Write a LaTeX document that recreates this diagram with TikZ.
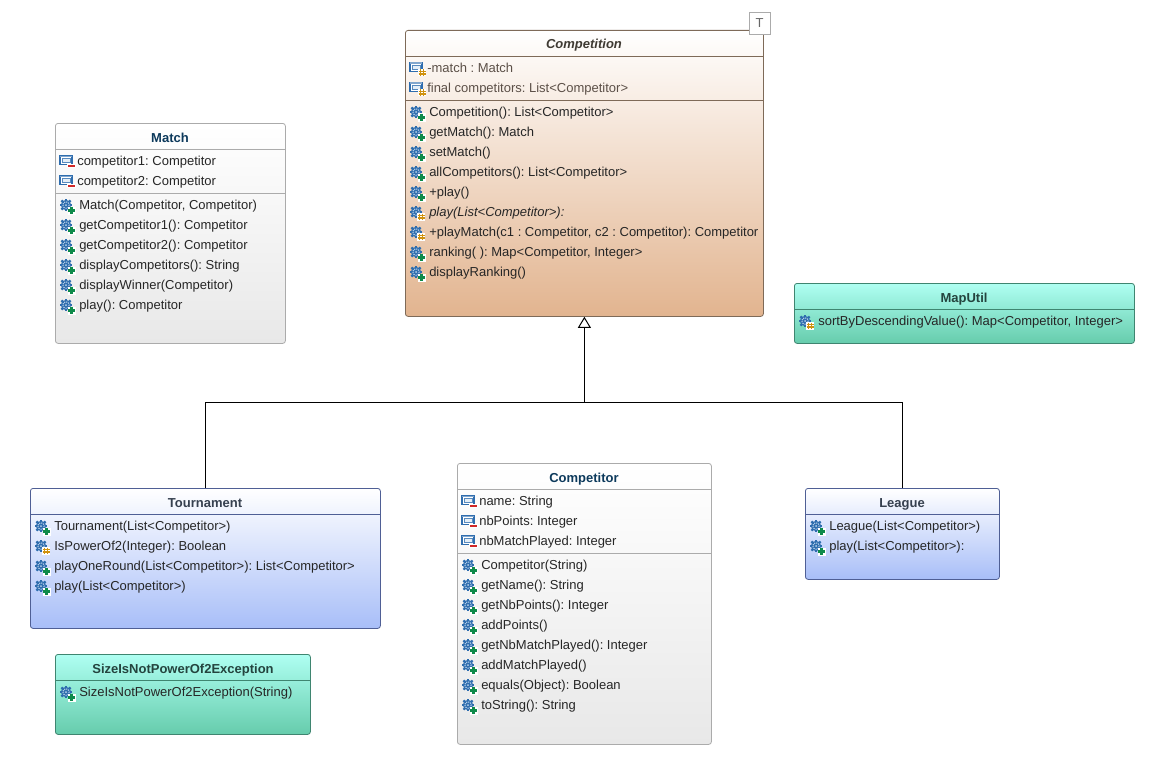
\documentclass[tikz,border=0pt]{standalone}
\usepackage{fontspec}
\setmainfont{Liberation Sans}
\usetikzlibrary{arrows.meta}
\definecolor{titleblue}{HTML}{0D3A5C}
\definecolor{titlebrown}{HTML}{3F3A33}
\definecolor{titleslate}{HTML}{36404F}
\definecolor{titleteal}{HTML}{24443E}
\definecolor{attrbrown}{HTML}{5C5048}
\definecolor{graydraw}{HTML}{ABABAB}
\definecolor{graybottom}{HTML}{E8E8E8}
\definecolor{browndraw}{HTML}{7E6A58}
\definecolor{brownbottom}{HTML}{E2B48F}
\definecolor{bluedraw}{HTML}{4F5F95}
\definecolor{bluebottom}{HTML}{A8BEF8}
\definecolor{greendraw}{HTML}{3F8570}
\definecolor{greentop}{HTML}{AFFFF2}
\definecolor{greenbottom}{HTML}{66CCAC}
\definecolor{iconblue}{HTML}{2F6DAE}
\definecolor{iconpale}{HTML}{BCD4EC}
\definecolor{icongreen}{HTML}{0E8A4A}
\definecolor{iconorange}{HTML}{D0920F}
\definecolor{iconred}{HTML}{D02828}
\tikzset{
  classbox/.style={draw, rounded corners=2pt, anchor=north west, inner sep=0pt, line width=0.6pt},
  graybox/.style={classbox, draw=graydraw, top color=white, bottom color=graybottom},
  brownbox/.style={classbox, draw=browndraw, top color=white, bottom color=brownbottom},
  bluebox/.style={classbox, draw=bluedraw, top color=white, bottom color=bluebottom},
  greenbox/.style={classbox, draw=greendraw, top color=greentop, bottom color=greenbottom},
  rowtext/.style={anchor=base west, inner sep=0pt, font=\fontsize{9.75pt}{11pt}\selectfont\frenchspacing, text=black!85},
  titletext/.style={anchor=base, inner sep=0pt, font=\fontsize{9.75pt}{11pt}\selectfont\bfseries},
  sepline/.style={line width=0.6pt},
  pics/gearplus/.style={code={\pic{gear}; \pic{plusbadge};}},
  pics/gearprot/.style={code={\pic{gear}; \pic{protbadge};}},
  pics/attrminus/.style={code={\pic{attr};
    \fill[white] (0,3) rectangle (9,7);
    \fill[iconred] (1,4) rectangle (8,6.2);}},
  pics/attrprot/.style={code={\pic{attr}; \pic{protbadge};}},
  pics/gear/.style={code={
    \foreach \a in {0,45,...,315}
      \draw[iconblue, line width=1.6pt] (\a:3.5) -- (\a:6.4);
    \fill[iconblue] (0,0) circle [radius=5.2];
    \draw[iconpale, line width=0.8pt, dash pattern=on 0.8pt off 0.8pt] (0,0) circle [radius=3.2];
    \fill[iconpale] (0,0) circle [radius=1];
  }},
  pics/attr/.style={code={
    \draw[iconblue, line width=0.8pt, fill=white] (-7,-5.5) rectangle (5,3.5);
    \fill[iconblue!60] (-7,-5.5) rectangle (5,-4);
    \draw[iconblue!80, line width=0.6pt, fill=iconpale!40] (-4.5,-2.5) rectangle (3,1.5);
  }},
  pics/plusbadge/.style={code={
    \fill[white] (1.5,1.5) rectangle (9.5,9.5);
    \fill[icongreen] (4,2) rectangle (7,9);
    \fill[icongreen] (2,4) rectangle (9,7);
  }},
  pics/protbadge/.style={code={
    \fill[white] (1.2,1) rectangle (9,8.5);
    \draw[iconorange, line width=1.1pt] (3.6,1.5) -- (3.6,8) (6.6,1.5) -- (6.6,8) (1.7,3.4) -- (8.5,3.4) (1.7,6.2) -- (8.5,6.2);
  }}
}
\begin{document}
\begin{tikzpicture}[x=0.75pt, y=-0.75pt]
  \useasboundingbox (0,0) rectangle (1164,774);
  % classes
  \node (competition) [brownbox, minimum width=268.5pt, minimum height=214.5pt] at (405,30) {};
  \node (match) [graybox, minimum width=172.5pt, minimum height=165pt] at (55,123) {};
  \node (maputil) [greenbox, minimum width=255pt, minimum height=45pt] at (794,283) {};
  \node (tournament) [bluebox, minimum width=262.5pt, minimum height=105pt] at (30,488) {};
  \node (competitor) [graybox, minimum width=190.5pt, minimum height=210.75pt] at (457,463) {};
  \node (league) [bluebox, minimum width=145.5pt, minimum height=68.25pt] at (805,488) {};
  \node (sizeexc) [greenbox, minimum width=191.25pt, minimum height=60pt] at (55,654) {};
  \node (tmark) [draw=graydraw, fill=white, inner sep=0pt, minimum width=15.75pt, minimum height=16.5pt,
    font=\fontsize{9.75pt}{11pt}\selectfont, text=black!60] at (759.5,23.5) {T};
  % compartments
  \draw [sepline, draw=browndraw] (405,56.5) -- (763,56.5);
  \draw [sepline, draw=browndraw] (405,100.5) -- (763,100.5);
  \draw [sepline, draw=graydraw] (55,149.5) -- (285,149.5);
  \draw [sepline, draw=graydraw] (55,193.5) -- (285,193.5);
  \draw [sepline, draw=greendraw] (794,309.5) -- (1134,309.5);
  \draw [sepline, draw=bluedraw] (30,514.5) -- (380,514.5);
  \draw [sepline, draw=graydraw] (457,489.5) -- (711,489.5);
  \draw [sepline, draw=graydraw] (457,553.5) -- (711,553.5);
  \draw [sepline, draw=bluedraw] (805,514.5) -- (999,514.5);
  \draw [sepline, draw=greendraw] (55,680.5) -- (310,680.5);
  % titles
  \node (competitiontitle) [titletext, text=titlebrown, font=\fontsize{9.75pt}{11pt}\selectfont\bfseries\itshape] at (584,49) {Competition};
  \node (matchtitle) [titletext, text=titleblue] at (170,142.5) {Match};
  \node (maputiltitle) [titletext, text=titleteal] at (964,302) {MapUtil};
  \node (tournamenttitle) [titletext, text=titleslate] at (205,507) {Tournament};
  \node (competitortitle) [titletext, text=titleblue] at (584,482) {Competitor};
  \node (leaguetitle) [titletext, text=titleslate] at (902,507) {League};
  \node (sizeexctitle) [titletext, text=titleteal] at (183,673) {SizeIsNotPowerOf2Exception};
  % competition rows
  \foreach \y/\txt [count=\i] in {73/{-match : Match}, 93/{final competitors: List<Competitor>}} {
    \pic at (417,\y-5) {attrprot};
    \node (cattr\i) [rowtext, text=attrbrown] at (427,\y) {\txt};
  }
  \foreach \y/\ic/\txt [count=\i] in {116.5/gearplus/{Competition(): List<Competitor>}, 136.5/gearplus/{getMatch(): Match},
      156.5/gearplus/{setMatch()}, 176.5/gearplus/{allCompetitors(): List<Competitor>}, 196.5/gearplus/{+play()},
      216.5/gearprot/{\itshape play(List<Competitor>):}, 236.5/gearprot/{+playMatch(c1 : Competitor, c2 : Competitor): Competitor},
      256.5/gearplus/{ranking( ): Map<Competitor, Integer>}, 276.5/gearplus/{displayRanking()}} {
    \pic at (416,\y-4.5) {\ic};
    \node (cop\i) [rowtext] at (429,\y) {\txt};
  }
  % match rows
  \foreach \y/\txt [count=\i] in {165/{competitor1: Competitor}, 185/{competitor2: Competitor}} {
    \pic at (67,\y-4) {attrminus};
    \node (mattr\i) [rowtext] at (77,\y) {\txt};
  }
  \foreach \y/\txt [count=\i] in {209/{Match(Competitor, Competitor)}, 229/{getCompetitor1(): Competitor},
      249/{getCompetitor2(): Competitor}, 269/{displayCompetitors(): String},
      289/{displayWinner(Competitor)}, 309/{play(): Competitor}} {
    \pic at (66,\y-4) {gearplus};
    \node (mop\i) [rowtext] at (79,\y) {\txt};
  }
  % maputil rows
  \pic at (805,321) {gearprot};
  \node (uop1) [rowtext] at (818,325) {sortByDescendingValue(): Map<Competitor, Integer>};
  % tournament rows
  \foreach \y/\ic/\txt [count=\i] in {530/gearplus/{Tournament(List<Competitor>)}, 550/gearprot/{IsPowerOf2(Integer): Boolean},
      570/gearplus/{playOneRound(List<Competitor>): List<Competitor>}, 590/gearplus/{play(List<Competitor>)}} {
    \pic at (41,\y-4) {\ic};
    \node (top\i) [rowtext] at (54,\y) {\txt};
  }
  % competitor rows
  \foreach \y/\txt [count=\i] in {505/{name: String}, 525/{nbPoints: Integer}, 545/{nbMatchPlayed: Integer}} {
    \pic at (469,\y-4) {attrminus};
    \node (pattr\i) [rowtext] at (479,\y) {\txt};
  }
  \foreach \y/\txt [count=\i] in {569/{Competitor(String)}, 589/{getName(): String}, 609/{getNbPoints(): Integer},
      629/{addPoints()}, 649/{getNbMatchPlayed(): Integer}, 669/{addMatchPlayed()},
      689/{equals(Object): Boolean}, 709/{toString(): String}} {
    \pic at (468,\y-4) {gearplus};
    \node (pop\i) [rowtext] at (481,\y) {\txt};
  }
  % league rows
  \foreach \y/\txt [count=\i] in {530/{League(List<Competitor>)}, 550/{play(List<Competitor>):}} {
    \pic at (816,\y-4) {gearplus};
    \node (lop\i) [rowtext] at (829,\y) {\txt};
  }
  % exception rows
  \pic at (66,692) {gearplus};
  \node (eop1) [rowtext] at (79,696) {SizeIsNotPowerOf2Exception(String)};
  % inheritance
  \coordinate (bus) at (competition.south |- 0,402.5);
  \draw [line width=0.75pt, -{Triangle[open,length=8.25pt,width=9.75pt]}] (bus) -- (competition.south);
  \draw [line width=0.75pt] (tournament.north) |- (bus) -| (league.north);
\end{tikzpicture}
\end{document}
